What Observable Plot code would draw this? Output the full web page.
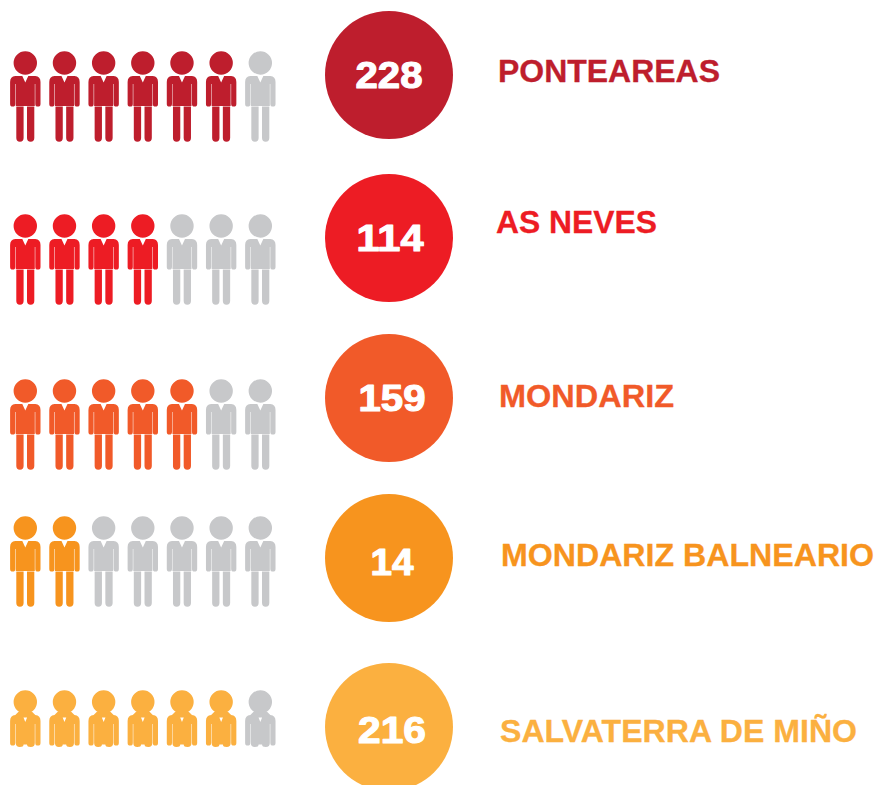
<!DOCTYPE html>
<html><head><meta charset="utf-8">
<script src="https://cdn.jsdelivr.net/npm/d3@7"></script>
<script src="https://cdn.jsdelivr.net/npm/@observablehq/plot@0.6"></script>
<style>html,body{margin:0;padding:0;background:#fff}svg{display:block;max-width:none}</style>
</head><body><div id="chart"></div>
<script>
// Data
const municipalities = ["PONTEAREAS","AS NEVES","MONDARIZ","MONDARIZ BALNEARIO","SALVATERRA DE MIÑO"];
const totals = [228,114,159,14,216];
const filledIcons = [6,4,5,2,6];
const iconsPerRow = 7;
// Layout and style
const colors = ["#BE1E2D","#ED1C24","#F15A29","#F7941E","#FBB040"];
const offColor = "#C7C8CA";
const circleX = 389;
const circleY = [75,238,398,558,727];
const numberX = [389,390,392,392,392];
const numberY = [76,239,399,563,731];
const numberWidth = [67,67,67,43,68];
const labelX = [498,496,499,501,500];
const labelY = [72,223,397,556,732];
const labelWidth = [222,161,175,373,357];
const iconX0 = 25.3, iconStep = 39.17;
const iconY = [63,226,391,528,702];

const rows = municipalities.map((name,i)=>({name,total:totals[i],i}));
const icons = rows.flatMap(r=>d3.range(iconsPerRow).map(c=>({
  row:r.i, col:c, key:c<filledIcons[r.i]?r.name:"off"
})));

function head(c){ c.moveTo(11.7,0); c.arc(0,0,11.7,0,Math.PI*2); c.closePath(); }
const fullPerson = {draw(c){
  head(c);
  c.moveTo(-3,13); c.lineTo(0,19.5); c.lineTo(3,13); c.lineTo(10,13);
  c.quadraticCurveTo(15.2,13.5,15.2,19); c.lineTo(15.2,41); c.arc(12.6,41,2.6,0,Math.PI);
  c.lineTo(10,21); c.lineTo(9.5,21); c.lineTo(9.5,42.9); c.lineTo(-9.5,42.9); c.lineTo(-9.5,21);
  c.lineTo(-10,21); c.lineTo(-10,41); c.arc(-12.6,41,2.6,0,Math.PI);
  c.lineTo(-15.2,19); c.quadraticCurveTo(-15.2,13.5,-10,13); c.closePath();
  for (const [a,b] of [[1.7,9],[-9,-1.7]]) {
    const m=(a+b)/2, r=(b-a)/2;
    c.moveTo(a,43.5); c.lineTo(b,43.5); c.lineTo(b,75); c.arc(m,75,r,0,Math.PI); c.closePath();
  }
}};
const bustPerson = {draw(c){
  head(c);
  c.moveTo(-7,10); c.lineTo(7,10); c.lineTo(10,13);
  c.quadraticCurveTo(15.2,13.5,15.2,19); c.lineTo(15.2,41); c.arc(12.6,41,2.6,0,Math.PI);
  c.lineTo(10,22); c.lineTo(9.5,22); c.lineTo(9.5,41);
  c.quadraticCurveTo(9.5,45,5.5,45); c.quadraticCurveTo(1.7,45,1.7,42.5);
  c.lineTo(-1.7,42.5); c.quadraticCurveTo(-1.7,45,-5.5,45); c.quadraticCurveTo(-9.5,45,-9.5,41);
  c.lineTo(-9.5,22); c.lineTo(-10,22); c.lineTo(-10,41); c.arc(-12.6,41,2.6,0,Math.PI);
  c.lineTo(-15.2,19); c.quadraticCurveTo(-15.2,13.5,-10,13); c.closePath();
  // collar notch, wound the other way
  c.moveTo(-1.8,15.5); c.lineTo(0,20); c.lineTo(1.8,15.5); c.closePath();
}};

const iconMark = (data,symbol)=>Plot.dot(data,{
  x:d=>iconX0+d.col*iconStep, y:d=>iconY[d.row], fill:"key", symbol, r:10
});
const font = "'Liberation Sans',Arial,sans-serif";
const plot = Plot.plot({
  width:877, height:785, margin:0,
  x:{domain:[0,877],range:[-0.5,876.5],axis:null},
  y:{domain:[0,785],range:[-0.5,784.5],axis:null},
  color:{domain:[...municipalities,"off"],range:[...colors,offColor]},
  style:{background:"#fff"},
  marks:[
    iconMark(icons.filter(d=>d.row<4),fullPerson),
    iconMark(icons.filter(d=>d.row===4),bustPerson),
    Plot.dot(rows,{x:()=>circleX,y:d=>circleY[d.i],r:64,fill:"name"}),
    Plot.text(rows,{x:d=>numberX[d.i],y:d=>numberY[d.i],text:d=>String(d.total),fill:"#fff",stroke:"#fff",strokeWidth:1.1,
      fontFamily:font,fontWeight:"bold",fontSize:36,textAnchor:"middle",lineAnchor:"middle",className:"num"}),
    Plot.text(rows,{x:d=>labelX[d.i],y:d=>labelY[d.i],text:"name",fill:"name",stroke:"name",strokeWidth:0.3,
      fontFamily:font,fontWeight:"bold",fontSize:32,textAnchor:"start",lineAnchor:"middle",className:"lab"})
  ]
});
document.getElementById("chart").append(plot);
// stretch the type to the widths of the reference lettering
d3.select(plot).selectAll(".num text").attr("lengthAdjust","spacingAndGlyphs").attr("textLength",(d,i)=>numberWidth[i]);
d3.select(plot).selectAll(".lab text").attr("lengthAdjust","spacingAndGlyphs").attr("textLength",(d,i)=>labelWidth[i]);
</script></body></html>
